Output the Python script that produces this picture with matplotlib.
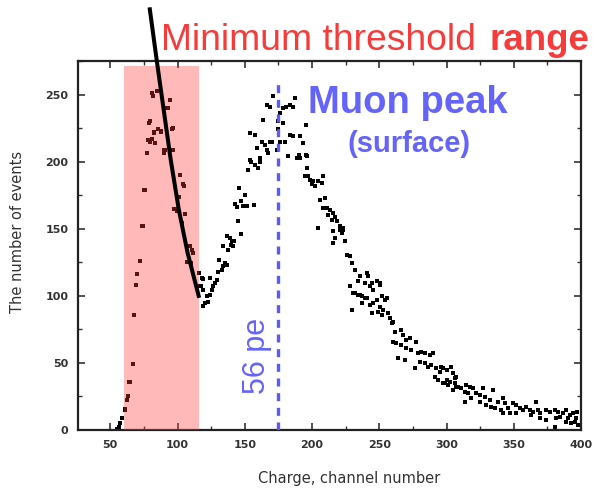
import matplotlib.pyplot as plt
from matplotlib.ticker import MultipleLocator

# scatter points: charge channel vs number of events
charge = [55, 56.2, 57.4, 58.7, 60.6, 61, 62.4, 63, 64, 64.4, 66.6, 68, 69, 70, 71.8, 73.5,
          74, 75.2, 75.5, 77.2, 78.4, 79, 79.2, 79.7, 80.7, 81, 81.4, 82.4, 82.7, 83, 84.7,
          85.5, 87.9, 88, 89.6, 90, 90.9, 91.6, 92.8, 94.5, 95.8, 96.5, 97, 97.7, 98.3, 99.5,
          101.2, 102, 103, 104, 105, 105.7, 107, 109.4, 110, 111, 111.8, 115.6, 116.8, 117.5,
          118, 119, 119.3, 120.5, 121.8, 123, 124.2, 125.5, 126.7, 128, 129.2, 119.3, 124.2,
          130.4, 132.9, 134, 135.4, 131, 136.6, 134, 137.8, 139.8, 141.5, 142.3, 136.6, 139,
          140.3, 147.3, 144.8, 142.8, 149, 151.5, 157, 144, 147, 150.2, 146, 152.7, 154, 155,
          157.6, 160, 161.4, 161.4, 154, 157.6, 159, 162.6, 165, 166.3, 167.5, 168.8, 170,
          174.2, 176.2, 163.8, 166.3, 168.8, 171.2, 176.2, 178.7, 181, 183.6, 187.3, 175,
          178.7, 175, 180, 183.6, 186, 191, 182.4, 188.6, 191, 195.5, 195.5, 196, 194.8, 186,
          193.5, 190, 199.7, 198.5, 196, 197.2, 201, 202.2, 204.6, 207.1, 208.4, 206, 209.6,
          210.8, 213.3, 215.8, 214.6, 204.6, 218.3, 220.8, 223.2, 222, 224.5, 208.4, 212,
          217, 215.8, 217, 220.8, 223.2, 215.8, 225.7, 228.2, 229.4, 231.9, 235.6, 240.6,
          241.7, 234.3, 239.3, 243, 248, 250.4, 228.2, 231.9, 235.6, 240.6, 251.7, 255.4,
          230.6, 234.3, 236.8, 239.3, 244.3, 250.4, 245.3, 229.4, 236.8, 243, 245.3, 248,
          250.4, 254, 244.3, 249.2, 251.7, 253, 256.6, 257.9, 259.1, 260.3, 261.6, 266.5,
          267.7, 260.3, 262.8, 266.5, 270.2, 272.7, 277.6, 270.2, 273.9, 278.8, 281.3, 283.8,
          287.6, 290, 264, 269, 276.4, 280.1, 283.8, 286.3, 288.8, 292.5, 296.2, 291.3, 293.8,
          297.5, 302.4, 306.1, 304.9, 307.3, 297.5, 295, 300, 303.6, 304.9, 307.3, 300,
          306.1, 298.7, 301.2, 308.6, 311, 314.8, 317.2, 319.7, 313.5, 316, 322.2, 324.7,
          327.2, 334.6, 313.5, 318.5, 324.7, 328.4, 332.1, 329.6, 333.4, 335.8, 338.3, 342,
          343.3, 340.8, 345.7, 347, 349.5, 351.9, 354.4, 356.9, 359.4, 361.8, 364.3, 366.8,
          368, 369.3, 374.2, 376.7, 380.4, 382.9, 384.1, 386.6, 389.1, 391.6, 394, 396.5,
          395.3, 397.8, 392.8, 389.1, 381.7, 374.2, 369.3, 363.1, 351.9, 342, 380.4, 390.3,
          397.3]
events = [0.5, 2.5, 5, 9, 15, 16, 22, 25, 36, 35.5, 49, 86, 108, 116, 125.6, 151.7,
          152, 179, 179, 206.5, 216, 229, 230, 215, 217, 251, 249, 221.5, 222, 214, 252.5,
          224, 223, 222, 206.5, 209, 209, 240, 240, 246, 224.4, 225, 209, 164.7, 165, 163,
          174, 190, 154, 183, 182, 161, 125, 137, 124.4, 134, 132, 117, 107, 107,
          113, 92.5, 104.5, 94.5, 99.5, 95.7, 100.7, 104.5, 107, 109.5, 112, 112.4, 113,
          118, 119.4, 122, 124.4, 127, 123, 136.8, 134.3, 138, 137, 140.5, 144.8, 143,
          141, 146.3, 156, 168.7, 167, 166.7, 168, 166, 171, 175, 180, 194, 201.5, 200,
          197.8, 195, 200, 202.7, 221, 220, 210, 215, 212.7, 209, 206.5, 215, 215,
          209, 215, 231, 242.5, 241, 249, 236, 240, 241, 242.5, 247.5, 230,
          229, 224, 215, 220, 219, 219, 204, 203, 203, 205, 227.6, 195, 189, 241,
          214, 205, 183, 186.6, 204, 189, 185.3, 182, 185.3, 184, 189, 171.6, 173,
          165.4, 164, 161.7, 156.7, 150.5, 155.5, 151.7, 149, 146.8, 140.5, 165.4, 160.4,
          159, 148, 143, 149, 150.5, 139.3, 130.6, 129.4, 124.4, 119.4, 114.4, 117,
          114.4, 110.7, 109.5, 107, 110.7, 108.2, 107, 102, 100.7, 98.3, 99.5, 98.3,
          102, 100.7, 99.5, 98.3, 109.5, 109.5, 104.5, 89.6, 94.5, 93.3, 94.5, 97,
          92, 97, 87, 88.3, 85.8, 89.6, 87, 83.3, 79.6, 80.8, 73.4, 74.6,
          70.9, 65.9, 64.7, 63.4, 67.2, 68.4, 65.9, 61, 59.7, 57.2, 58.4, 57.2,
          56, 57.2, 53.5, 52.2, 46, 51, 49.8, 47.2, 48.5, 46, 47.2, 39.8, 37.3,
          34.8, 36, 38.6, 29.9, 32.3, 46, 43.5, 44.8, 47.3, 42.3, 39.8, 37.3,
          34.8, 34.8, 33.6, 32.3, 31.1, 33.6, 32.3, 31.1, 28.6, 27.4, 27.4, 26.1,
          31.1, 29.9, 21.1, 23.6, 21.1, 24.9, 22.4, 18.7, 17.4, 16.2, 21.1, 23.6,
          19.9, 14.9, 16.2, 12.4, 19.9, 18.7, 16.2, 14.9, 17.4, 14.9, 13.7, 21.1,
          14.9, 12.4, 14.9, 13.7, 14.9, 13.7, 10, 12.4, 14.9, 11.2, 12.4, 8.7,
          6.2, 3.7, 5, 6.2, 8.7, 7.5, 8.7, 11.2, 12.4, 12.4, 2.5, 8.7,
          13.7]

# hand-drawn guide line over the first peak
guide_x = [79.2, 84.6, 89.8, 95.0, 101.0, 107.5, 116.1]
guide_y = [315, 275, 238, 201, 164, 132, 98.5]

band = (60, 116)
band_top = 271.5
muon_peak = 175

plt.rcParams['font.family'] = ['Liberation Sans', 'DejaVu Sans']

fig = plt.figure(figsize=(5.93, 4.88), dpi=100)
ax = fig.add_axes([78/593, 58/488, 503/593, 369/488])

ax.plot(charge, events, 's', color='black', markersize=3.2, markeredgewidth=0, zorder=2)
ax.fill_between(band, 0, band_top, color='#ff3939', alpha=0.35, linewidth=0, zorder=3)
ax.plot([muon_peak, muon_peak], [0, 260], color='#5c5cf5', linewidth=2.4,
        linestyle=(0, (2.4, 2.0)), zorder=4)
ax.plot(guide_x, guide_y, color='black', linewidth=2.9, clip_on=False, zorder=5,
        solid_capstyle='butt')

ax.set_xlim(26, 400)
ax.set_ylim(0, 275)
ax.xaxis.set_major_locator(MultipleLocator(50))
ax.xaxis.set_minor_locator(MultipleLocator(25))
ax.yaxis.set_major_locator(MultipleLocator(50))
ax.yaxis.set_minor_locator(MultipleLocator(25))
ax.tick_params(which='both', direction='in', top=True, right=True, color='#333333')
ax.tick_params(which='major', length=5, width=1.2, pad=7)
ax.tick_params(which='minor', length=3, width=1)
for lbl in ax.get_xticklabels() + ax.get_yticklabels():
    lbl.set_family('DejaVu Sans')
    lbl.set_fontweight('bold')
    lbl.set_fontsize(8)
    lbl.set_color('#333333')
for sp in ax.spines.values():
    sp.set_linewidth(1.6)
    sp.set_color('#222222')

fig.text(349/593, 1 - 478/488, 'Charge, channel number', ha='center', va='center',
         fontsize=10.5, color='#333333', family='DejaVu Sans')
fig.text(18/593, 1 - 232/488, 'The number of events', ha='center', va='center',
         rotation=90, fontsize=10.5, color='#333333', family='DejaVu Sans')

red = '#f73a3a'
blue = '#6464fa'
fig.text(476/593, 1 - 50/488, 'Minimum threshold', ha='right', va='baseline',
         fontsize=26.8, color=red)
fig.text(489/593, 1 - 50/488, 'range', ha='left', va='baseline',
         fontsize=26.5, color=red, fontweight='bold')
fig.text(408/593, 1 - 113/488, 'Muon peak', ha='center', va='baseline',
         fontsize=27.5, color=blue, fontweight='bold')
fig.text(409/593, 1 - 152/488, '(surface)', ha='center', va='baseline',
         fontsize=21, color=blue, fontweight='bold')
fig.text(257/593, 1 - 356/488, '56 pe', ha='center', va='center', rotation=90,
         fontsize=22, color=blue)

fig.savefig('out.png', dpi=100)
